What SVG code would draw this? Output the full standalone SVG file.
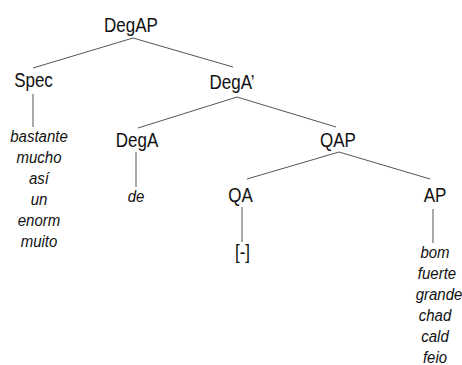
<svg xmlns="http://www.w3.org/2000/svg" width="462" height="365" viewBox="0 0 462 365">
  <style>
    .lbl { font-family: "Liberation Sans", Arial, sans-serif; font-size: 17px; fill: #111; text-anchor: middle; }
    .word { font-family: "Liberation Sans", Arial, sans-serif; font-size: 15px; font-style: italic; fill: #111; text-anchor: middle; }
    .edge { stroke: #555; stroke-width: 1; fill: none; }
  </style>
  <rect width="462" height="365" fill="#fff"/>

  <!-- tree branches -->
  <g id="connectors">
    <line class="edge" x1="133" y1="38" x2="33" y2="68"/>
    <line class="edge" x1="133" y1="38" x2="233" y2="67"/>
    <line class="edge" x1="33" y1="94" x2="33" y2="127"/>
    <line class="edge" x1="237" y1="97" x2="138" y2="128"/>
    <line class="edge" x1="237" y1="97" x2="336" y2="127"/>
    <line class="edge" x1="136" y1="152" x2="136" y2="187"/>
    <line class="edge" x1="339" y1="152" x2="247" y2="179"/>
    <line class="edge" x1="339" y1="152" x2="430" y2="179"/>
    <line class="edge" x1="242" y1="207" x2="242" y2="242"/>
    <line class="edge" x1="433" y1="209" x2="433" y2="243"/>
  </g>

  <!-- labels are set slightly tall: narrow glyphs stretched vertically -->
  <g id="DegAP"><text class="lbl" transform="translate(131 31.5) scale(1 1.15)">DegAP</text></g>

  <g id="Spec">
    <text class="lbl" transform="translate(33.5 86.5) scale(1 1.15)">Spec</text>
    <text class="word" transform="translate(39 142) scale(1 1.15)">bastante</text>
    <text class="word" transform="translate(39 163) scale(1 1.15)">mucho</text>
    <text class="word" transform="translate(39 184) scale(1 1.15)">así</text>
    <text class="word" transform="translate(39 205) scale(1 1.15)">un</text>
    <text class="word" transform="translate(39 226) scale(1 1.15)">enorm</text>
    <text class="word" transform="translate(39 247) scale(1 1.15)">muito</text>
  </g>

  <g id="DegA-bar"><text class="lbl" transform="translate(232 89) scale(1 1.15)">DegA’</text></g>

  <g id="DegA">
    <text class="lbl" transform="translate(137 146.5) scale(1 1.15)">DegA</text>
    <text class="word" transform="translate(136 202) scale(1 1.15)">de</text>
  </g>

  <g id="QAP"><text class="lbl" transform="translate(338 146.5) scale(1 1.15)">QAP</text></g>

  <g id="QA">
    <text class="lbl" transform="translate(240.5 201.5) scale(1 1.15)">QA</text>
    <text class="lbl" transform="translate(242.5 259) scale(1 1.15)">[-]</text>
  </g>

  <g id="AP">
    <text class="lbl" transform="translate(435 201.5) scale(1 1.15)">AP</text>
    <text class="word" transform="translate(435 258) scale(1 1.15)">bom</text>
    <text class="word" transform="translate(437 279) scale(1 1.15)">fuerte</text>
    <text class="word" transform="translate(439 300) scale(1 1.15)">grande</text>
    <text class="word" transform="translate(435 321) scale(1 1.15)">chad</text>
    <text class="word" transform="translate(435 342) scale(1 1.15)">cald</text>
    <text class="word" transform="translate(435 363) scale(1 1.15)">feio</text>
  </g>
</svg>
